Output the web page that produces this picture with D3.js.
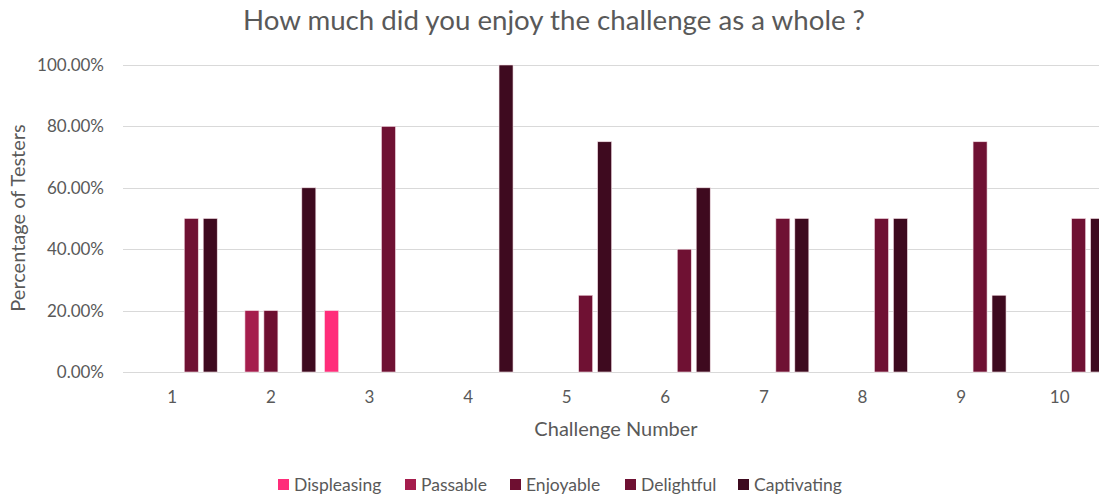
<!DOCTYPE html>
<html>
<head>
<meta charset="utf-8">
<script src="https://cdn.jsdelivr.net/npm/d3@7"></script>
<style>
  body { margin: 0; background: #fff; overflow: hidden; }
  svg { font-family: Lato, "Open Sans", sans-serif; }
</style>
</head>
<body>
<svg></svg>
<script>
var challenges = ["1","2","3","4","5","6","7","8","9","10"];
var seriesNames = ["Displeasing","Passable","Enjoyable","Delightful","Captivating"];
var seriesColors = ["#ff2d7a","#a51d4d","#6e0f31","#6f1133","#3e0a1f"];
var displeasing = [0,0,0.2,0,0,0,0,0,0,0];
var passable    = [0,0.2,0,0,0,0,0,0,0,0];
var enjoyable   = [0,0.2,0,0,0,0,0,0,0,0];
var delightful  = [0.5,0,0.8,0,0.25,0.4,0.5,0.5,0.75,0.5];
var captivating = [0.5,0.6,0,1,0.75,0.6,0.5,0.5,0.25,0.5];
var yTicks = [0,0.2,0.4,0.6,0.8,1];

var allSeries = [displeasing, passable, enjoyable, delightful, captivating];

var width = 1099;
var height = 495;
var svg = d3.select("svg")
            .attr("width",width)
            .attr("height",height);

var x = d3.scaleBand()
          .domain(challenges)
          .range([123, 1109])
          .paddingInner(0);

var x1 = d3.scaleBand()
           .domain(seriesNames)
           .range([0, x.bandwidth()])
           .paddingOuter(0.1)
           .paddingInner(0);

var y = d3.scaleLinear()
          .domain([0,1])
          .range([372, 65]);

// gridlines
svg.selectAll("line.grid")
   .data(yTicks)
   .enter()
   .append("line")
   .attr("class","grid")
   .attr("x1",123)
   .attr("x2",width)
   .attr("y1",function(d){ return Math.round(y(d)) + 0.5; })
   .attr("y2",function(d){ return Math.round(y(d)) + 0.5; })
   .attr("stroke","#d9d9d9")
   .attr("stroke-width",1);

// y tick labels
svg.selectAll("text.ytick")
   .data(yTicks)
   .enter()
   .append("text")
   .attr("class","ytick")
   .text(function(d){ return (d*100).toFixed(2) + "%"; })
   .attr("x",104)
   .attr("y",function(d){ return y(d) + 6; })
   .attr("text-anchor","end")
   .attr("font-size",17)
   .attr("fill","#595959");

// bars
var barW = 14;
seriesNames.forEach(function(name, s)
{
  var vals = allSeries[s];
  svg.selectAll("rect.s" + s)
     .data(challenges.map(function(c,i){ return {c:c, v:vals[i]}; }).filter(function(d){ return d.v > 0; }))
     .enter()
     .append("rect")
     .attr("class","s" + s)
     .attr("x",function(d){ return x(d.c) + x1(name) + (x1.bandwidth() - barW)/2; })
     .attr("y",function(d){ return y(d.v); })
     .attr("width",barW)
     .attr("height",function(d){ return y(0) - y(d.v); })
     .attr("fill",seriesColors[s])
     .attr("stroke","#f3dde4")
     .attr("stroke-width",0.6);
});

// x tick labels
svg.selectAll("text.xtick")
   .data(challenges)
   .enter()
   .append("text")
   .attr("class","xtick")
   .text(function(d){ return d; })
   .attr("x",function(d){ return x(d) + x.bandwidth()/2; })
   .attr("y",403)
   .attr("text-anchor","middle")
   .attr("font-size",17)
   .attr("fill","#595959");

// title
svg.append("text")
   .text("How much did you enjoy the challenge as a whole ?")
   .attr("x",554)
   .attr("y",30)
   .attr("text-anchor","middle")
   .attr("font-size",27)
   .attr("textLength",622)
   .attr("lengthAdjust","spacingAndGlyphs")
   .attr("fill","#595959");

// axis titles
svg.append("text")
   .text("Challenge Number")
   .attr("x",616)
   .attr("y",436)
   .attr("text-anchor","middle")
   .attr("font-size",20)
   .attr("fill","#595959");

svg.append("text")
   .text("Percentage of Testers")
   .attr("transform","translate(25,218) rotate(-90)")
   .attr("text-anchor","middle")
   .attr("font-size",20)
   .attr("fill","#595959");

// legend
var legendX = [278, 405, 510, 625, 738];
var legend = svg.selectAll("g.legend")
   .data(seriesNames)
   .enter()
   .append("g")
   .attr("class","legend")
   .attr("transform",function(d,i){ return "translate(" + legendX[i] + ",479)"; });
legend.append("rect")
      .attr("x",0)
      .attr("y",0)
      .attr("width",11)
      .attr("height",11)
      .attr("fill",function(d,i){ return seriesColors[i]; });
legend.append("text")
      .text(function(d){ return d; })
      .attr("x",16)
      .attr("y",12)
      .attr("font-size",17.5)
      .attr("fill","#595959");
</script>
</body>
</html>
